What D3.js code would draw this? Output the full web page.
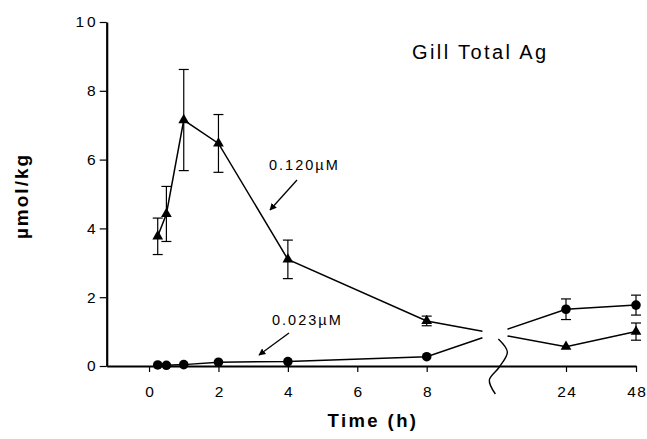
<!DOCTYPE html>
<html><head><meta charset="utf-8">
<script src="https://cdn.jsdelivr.net/npm/d3@7"></script>
<style>
body{margin:0;background:#fff;}
svg{display:block;}
text{font-family:"Liberation Sans",Arial,Helvetica,sans-serif;fill:#000;}
</style>
</head><body>
<svg id="c" width="647" height="439"></svg>
<script>
// ---- data ----
const times    = [0.25, 0.5, 1, 2, 4, 8, 24, 48];
const high     = [3.77, 4.42, 7.15, 6.47, 3.10, 1.31, 0.56, 1.00];   // 0.120 µM (triangles)
const highErr  = [0.53, 0.80, 1.47, 0.84, 0.56, 0.14, 0, 0.25];
const low      = [0.03, 0.02, 0.04, 0.11, 0.13, 0.27, 1.65, 1.77];   // 0.023 µM (circles)
const lowErr   = [0, 0, 0, 0, 0, 0, 0.30, 0.29];
const xTicks   = [0, 2, 4, 6, 8, 24, 48];
const yTicks   = [0, 2, 4, 6, 8, 10];
const seriesNames = ["0.120\u00B5M", "0.023\u00B5M"];
const chartTitle = "Gill Total Ag";

const svg = d3.select("#c");

// broken axis: linear 0..8, then 24 and 48 compressed
const x = d3.scaleLinear().domain([-1.22, 8, 24, 48]).range([106.7, 426.7, 566, 636]);
const y = d3.scaleLinear().domain([0, 10]).range([366, 22]);

// ---- axes ----
const xAxis = svg.append("g").attr("transform", `translate(0,${y(0)})`)
  .call(d3.axisBottom(x).tickValues(xTicks).tickSize(6).tickSizeOuter(0).tickPadding(14).tickFormat(d3.format("d")));
xAxis.select(".domain").attr("stroke", "#000").attr("stroke-width", 2.2);
xAxis.selectAll(".tick line").attr("stroke", "#000").attr("stroke-width", 1.2);
xAxis.selectAll(".tick text").attr("font-size", 15.5).attr("font-family", "Liberation Sans, Arial, sans-serif")
  .attr("letter-spacing", "1.5px").attr("dx", "0.75");

const yAxis = svg.append("g").attr("transform", `translate(${x(-1.22)},0)`)
  .call(d3.axisLeft(y).tickValues(yTicks).tickSize(7).tickSizeOuter(0).tickPadding(1).tickFormat(d3.format("d")));
yAxis.select(".domain").attr("stroke", "#000").attr("stroke-width", 2.2);
yAxis.selectAll(".tick text").attr("font-size", 15.5).attr("font-family", "Liberation Sans, Arial, sans-serif").attr("letter-spacing", "3px");
yAxis.selectAll(".tick line").attr("stroke", "#000").attr("stroke-width", 1.2);

// axis titles
svg.append("text").attr("x", 373).attr("y", 427).attr("text-anchor", "middle")
  .attr("font-size", 18.5).attr("font-weight", "bold").attr("letter-spacing", "2.4px").text("Time (h)");
svg.append("text").attr("transform", `translate(28,196) rotate(-90)`).attr("text-anchor", "middle")
  .attr("font-size", 19).attr("font-weight", "bold").attr("letter-spacing", "2px").text("\u00B5mol/kg");

// chart title
svg.append("text").attr("x", 412).attr("y", 59).attr("font-size", 20).attr("letter-spacing", "2.4px").text(chartTitle);

// ---- lines with break between 8 and 24 ----
const gapA = 0.40, gapB = 0.58;  // fraction along 8→24 segment where line is interrupted
function drawSeries(vals) {
  const pts = times.map((t, i) => [x(t), y(vals[i])]);
  const p8 = pts[5], p24 = pts[6];
  const lerp = (f) => [p8[0] + f * (p24[0] - p8[0]), p8[1] + f * (p24[1] - p8[1])];
  const segs = [pts.slice(0, 6).concat([lerp(gapA)]), [lerp(gapB)].concat(pts.slice(6))];
  segs.forEach(s => svg.append("path").attr("d", d3.line()(s))
    .attr("fill", "none").attr("stroke", "#000").attr("stroke-width", 1.5));
}
drawSeries(high);
drawSeries(low);

// break mark (wavy)
const bx = x(8) + 0.5 * (x(24) - x(8)), by = y(0);
const wave = [[2, -27], [11, -14], [3, 1], [-7, 14], [-1, 28]].map(d => [bx + d[0], by + d[1]]);
svg.append("path").attr("d", d3.line().curve(d3.curveCatmullRom)(wave))
  .attr("fill", "none").attr("stroke", "#000").attr("stroke-width", 1.4);

// ---- error bars ----
function drawErr(vals, errs) {
  times.forEach((t, i) => {
    if (!errs[i]) return;
    const cx = x(t), y1 = y(vals[i] + errs[i]), y2 = y(vals[i] - errs[i]);
    const g = svg.append("g").attr("stroke", "#000").attr("stroke-width", 1.2);
    g.append("line").attr("x1", cx).attr("x2", cx).attr("y1", y1).attr("y2", y2);
    g.append("line").attr("x1", cx - 5).attr("x2", cx + 5).attr("y1", y1).attr("y2", y1);
    g.append("line").attr("x1", cx - 5).attr("x2", cx + 5).attr("y1", y2).attr("y2", y2);
  });
}
drawErr(high, highErr);
drawErr(low, lowErr);

// ---- markers ----
svg.selectAll(".tri").data(times).enter().append("path")
  .attr("d", d3.symbol().type(d3.symbolTriangle).size(50))
  .attr("transform", (t, i) => `translate(${x(t)},${y(high[i])})`).attr("fill", "#000");
svg.selectAll(".dot").data(times).enter().append("circle")
  .attr("cx", t => x(t)).attr("cy", (t, i) => y(low[i])).attr("r", 4.8).attr("fill", "#000");

// ---- annotations with arrows ----
svg.append("defs").append("marker").attr("id", "ah").attr("viewBox", "0 0 10 10")
  .attr("refX", 9).attr("refY", 5).attr("markerWidth", 7).attr("markerHeight", 7)
  .attr("markerUnits", "userSpaceOnUse").attr("orient", "auto")
  .append("path").attr("d", "M0,0 L10,5 L0,10 z").attr("fill", "#000");

svg.append("text").attr("x", 269).attr("y", 170).attr("font-size", 14.5).attr("letter-spacing", "2px").text(seriesNames[0]);
svg.append("line").attr("x1", 297).attr("y1", 180).attr("x2", 270).attr("y2", 210)
  .attr("stroke", "#000").attr("stroke-width", 1.3).attr("marker-end", "url(#ah)");

svg.append("text").attr("x", 272).attr("y", 325).attr("font-size", 14.5).attr("letter-spacing", "2px").text(seriesNames[1]);
svg.append("line").attr("x1", 289).attr("y1", 333).attr("x2", 259).attr("y2", 355)
  .attr("stroke", "#000").attr("stroke-width", 1.3).attr("marker-end", "url(#ah)");
</script>
</body></html>
